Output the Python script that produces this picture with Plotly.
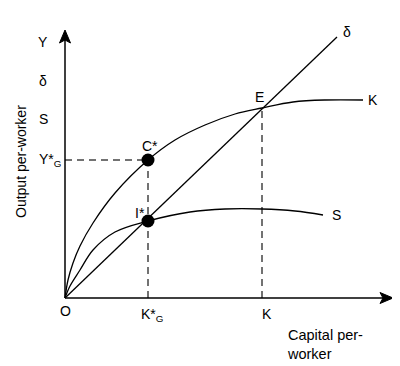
import plotly.graph_objects as go

# Curve readings (x = capital per worker, y = output per worker), in chart units
k_x = [0, 3, 8, 15, 28, 50, 83, 110, 140, 170, 197, 228, 260, 298]
k_y = [0, 18, 35, 52, 75, 105, 138, 158, 173, 184, 190, 196, 198, 198]
s_x = [0, 5, 15, 28, 50, 83, 125, 160, 197, 230, 258]
s_y = [0, 12, 28, 48, 66, 77, 86, 89, 89, 87, 83]
d_x = [0, 272]
d_y = [0, 261]
point_names = ["C*", "I*", "E"]
point_x = [83, 83, 197]
point_y = [138, 77, 190]

FONT = "Liberation Sans, Arial, sans-serif"
PAGE_OFF = 8            # default body margin of the html page
OX, OY = 65, 298        # origin in page pixels
X0, X1, Y0, Y1 = -8, 330, -8, 272   # axis ranges (1 unit = 1 px)
PL, PT = OX + X0, OY - Y1
PW, PH = X1 - X0, Y1 - Y0

fig = go.Figure()

# axes (lines + arrowheads)
ax_line = dict(color="black", width=1.5)
fig.add_shape(type="line", x0=0, y0=0, x1=320, y1=0, line=ax_line)
fig.add_shape(type="line", x0=0, y0=0, x1=0, y1=258, line=ax_line)
fig.add_shape(type="path", path="M 328,0 L 315,-5.5 L 318,0 L 315,5.5 Z",
              fillcolor="black", line=dict(color="black", width=1))
fig.add_shape(type="path", path="M 0,268 L -5.5,255 L 0,258 L 5.5,255 Z",
              fillcolor="black", line=dict(color="black", width=1))

line_style = dict(color="black", width=1.3)
fig.add_trace(go.Scatter(x=k_x, y=k_y, mode="lines", line=dict(shape="spline", **line_style), hoverinfo="skip"))
fig.add_trace(go.Scatter(x=s_x, y=s_y, mode="lines", line=dict(shape="spline", **line_style), hoverinfo="skip"))
fig.add_trace(go.Scatter(x=d_x, y=d_y, mode="lines", line=line_style, hoverinfo="skip"))

# dashed guides
dash = dict(color="#444", width=1.5, dash="7px,5px")
fig.add_shape(type="line", x0=0, y0=point_y[0], x1=point_x[0], y1=point_y[0], line=dash, layer="below")
fig.add_shape(type="line", x0=point_x[0], y0=0, x1=point_x[0], y1=point_y[0], line=dash, layer="below")
fig.add_shape(type="line", x0=point_x[2], y0=0, x1=point_x[2], y1=point_y[2], line=dash, layer="below")

fig.add_trace(go.Scatter(x=point_x[:2], y=point_y[:2], mode="markers",
                         marker=dict(color="black", size=13), hoverinfo="skip"))

def label(txt, px, py, size=14, xanchor="center", **kw):
    fig.add_annotation(x=(px - PL) / PW, y=(PT + PH - py) / PH, xref="paper", yref="paper",
                       text=txt, showarrow=False, xanchor=xanchor, yanchor="middle",
                       font=dict(family=FONT, size=size, color="black"), **kw)

label("Y", 43, 42)
label("δ", 43, 81)
label("S", 43, 119)
label("Y*<sub>G</sub>", 63, 160, xanchor="right")
label(point_names[0], 150, 146)
label(point_names[1], 140, 213)
label(point_names[2], 259, 97)
label("δ", 347, 32)
label("K", 373, 100)
label("S", 336, 215)
label("O", 65, 311)
label("K*<sub>G</sub>", 152, 315)
label("K", 267, 314)
label("Capital per-<br>worker", 285, 344, size=14.5, xanchor="left", align="left")
label("Output per-worker", 21, 162, textangle=-90)

W, H = 400 - PAGE_OFF, 366 - PAGE_OFF
fig.update_layout(
    width=W, height=H,
    margin=dict(l=PL - PAGE_OFF, r=W - (PL - PAGE_OFF) - PW, t=PT - PAGE_OFF,
                b=H - (PT - PAGE_OFF) - PH),
    paper_bgcolor="white", plot_bgcolor="white",
    showlegend=False,
    xaxis=dict(range=[X0, X1], visible=False, fixedrange=True),
    yaxis=dict(range=[Y0, Y1], visible=False, fixedrange=True),
)
fig.write_html("out.html")
